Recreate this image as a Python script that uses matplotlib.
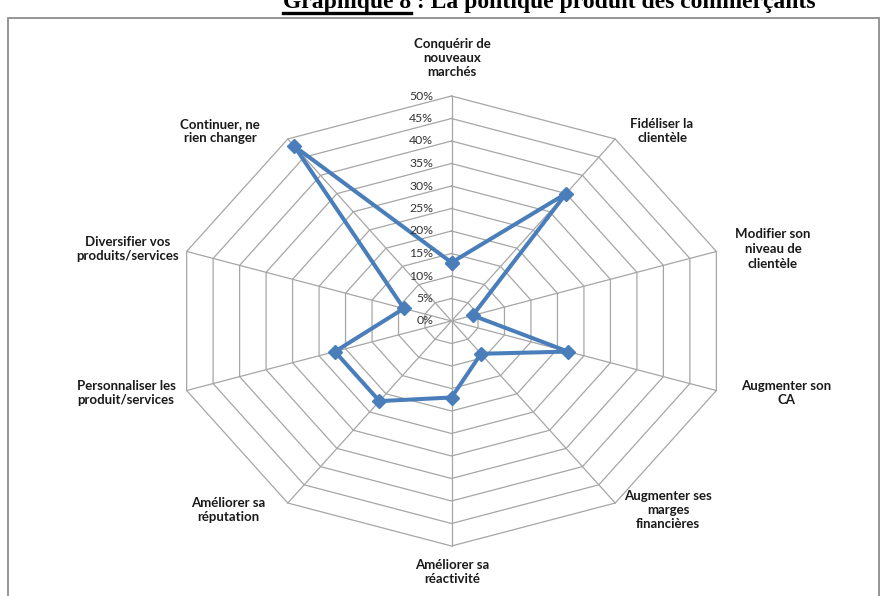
import numpy as np
import matplotlib
matplotlib.use("Agg")
import matplotlib.pyplot as plt
from matplotlib.patches import Rectangle

categories = [
    "Conquérir de\nnouveaux\nmarchés",
    "Fidéliser la\nclientèle",
    "Modifier son\nniveau de\nclientèle",
    "Augmenter son\nCA",
    "Augmenter ses\nmarges\nfinancières",
    "Améliorer sa\nréactivité",
    "Améliorer sa\nréputation",
    "Personnaliser les\nproduit/services",
    "Diversifier vos\nproduits/services",
    "Continuer, ne\nrien changer",
]
values = [13, 35, 4, 22, 9, 17, 22, 22, 9, 48]
ticks = [0, 5, 10, 15, 20, 25, 30, 35, 40, 45, 50]
tick_labels = [f"{t}%" for t in ticks]
title_bold_part = "Graphique 8"
title_rest = " : La politique produit des commerçants"

W, H = 885, 596
fig = plt.figure(figsize=(W / 100, H / 100), dpi=100)
fig.patch.set_facecolor("white")

# chart frame
fig.patches.append(Rectangle((8 / W, -0.05), (879 - 8) / W, 1 - 18 / H + 0.05,
                             transform=fig.transFigure, fill=False,
                             edgecolor="#8c8c8c", linewidth=1.3, zorder=0))

# axes: percent units, horizontally stretched like the reference
cx, cy = 451.5, 321.0
px_y = 225.0 / 50
px_x = 278.5 / 50
ax = fig.add_axes([0, 0, 1, 1])
ax.set_xlim(-cx / px_x, (W - cx) / px_x)
ax.set_ylim(-(H - cy) / px_y, cy / px_y)
ax.axis("off")

n = len(categories)
theta = np.arange(n) * 2 * np.pi / n
sx, cy_ = np.sin(theta), np.cos(theta)

grid_col = "#a6a6a6"
for t in ticks[1:]:
    xs = np.append(t * sx, t * sx[0])
    ys = np.append(t * cy_, t * cy_[0])
    ax.plot(xs, ys, color=grid_col, lw=0.9, zorder=1)
rmax = ticks[-1]
for i in range(n):
    ax.plot([0, rmax * sx[i]], [0, rmax * cy_[i]], color=grid_col, lw=0.9, zorder=1)

v = np.array(values, dtype=float)
xs = np.append(v * sx, v[0] * sx[0])
ys = np.append(v * cy_, v[0] * cy_[0])
ax.plot(xs, ys, color="#4a7ebb", lw=2.9, zorder=3,
        marker="D", markersize=7.5, markerfacecolor="#4a7ebb",
        markeredgecolor="#4a7ebb", solid_joinstyle="miter")

# radial tick labels
for t, lab in zip(ticks, tick_labels):
    ax.text(-3.3, t, lab, ha="right", va="center", fontsize=8.8,
            family="Lato", color="#333333", zorder=4)

# category labels (pixel positions of label centres)
label_pos = [
    (452, 58), (662, 131), (773, 249), (786, 393), (668, 510),
    (452, 572), (228, 510), (126, 393), (128, 249), (220, 131),
]
for lab, (lx, ly) in zip(categories, label_pos):
    fig.text(lx / W, 1 - ly / H, lab, ha="center", va="center",
             fontsize=9.5, fontweight="bold", family="Lato",
             color="#1a1a1a", linespacing=1.25, multialignment="center")

# title (partially cut at the top, as in the reference)
fs_title = 17
t1 = fig.text(283 / W, 1 - 8 / H, title_bold_part, ha="left", va="baseline",
              fontsize=fs_title, fontweight="bold", family="Liberation Serif")
fig.canvas.draw()
bb = t1.get_window_extent()
fig.text(bb.x1 / W, 1 - 8 / H, title_rest, ha="left", va="baseline",
         fontsize=fs_title, fontweight="bold", family="Liberation Serif")
fig.lines.append(plt.Line2D([bb.x0 / W, bb.x1 / W], [1 - 12.5 / H, 1 - 12.5 / H],
                            transform=fig.transFigure, color="black", lw=2.4))

fig.savefig("out.png", dpi=100)
